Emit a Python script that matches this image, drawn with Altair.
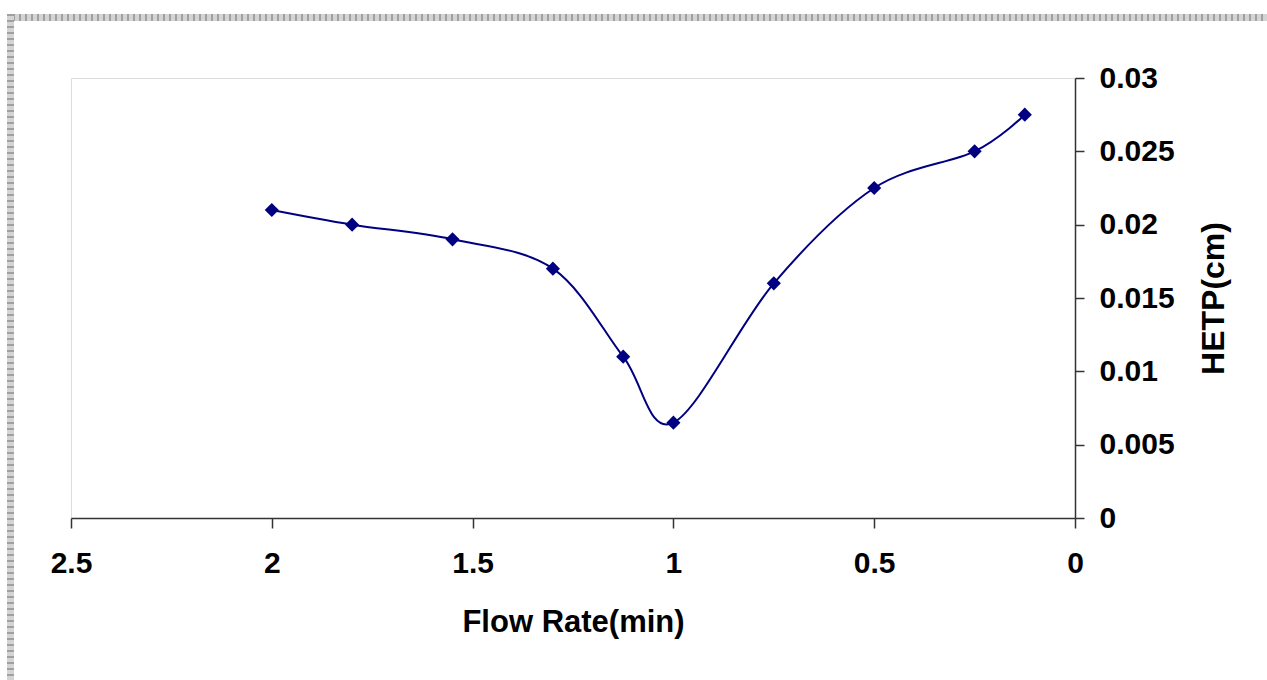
import altair as alt
import pandas as pd

# Flow rate (min) and plate height HETP (cm)
flow_rate = [2.0, 1.8, 1.55, 1.3, 1.125, 1.0, 0.75, 0.5, 0.25, 0.125]
hetp = [0.021, 0.020, 0.019, 0.017, 0.011, 0.0065, 0.016, 0.0225, 0.025, 0.0275]

x_ticks = [0, 0.5, 1, 1.5, 2, 2.5]
y_ticks = [0, 0.005, 0.01, 0.015, 0.02, 0.025, 0.03]

df = pd.DataFrame({"flow": flow_rate, "hetp": hetp})

FONT = "Liberation Sans"
NAVY = "#000080"
LABEL_SIZE = 30
TITLE_SIZE = 31

x_enc = alt.X(
    "flow:Q",
    scale=alt.Scale(domain=[2.5, 0], nice=False, zero=False),
    axis=alt.Axis(
        values=x_ticks,
        format="~g",
        title="Flow Rate(min)",
        grid=False,
        domainColor="#333333",
        domainWidth=1.5,
        tickColor="#333333",
        tickWidth=1.5,
        tickSize=10,
        labelFont=FONT,
        labelFontSize=LABEL_SIZE,
        labelFontWeight="bold",
        labelColor="#000000",
        labelPadding=20,
        labelFlush=False,
        labelOverlap=False,
        titleFont=FONT,
        titleFontSize=TITLE_SIZE,
        titleFontWeight="bold",
        titleColor="#000000",
        titleX=502,
        titleY=104,
        titleAlign="center",
        titleBaseline="middle",
    ),
)

y_enc = alt.Y(
    "hetp:Q",
    scale=alt.Scale(domain=[0, 0.03], nice=False),
    axis=alt.Axis(
        orient="right",
        values=y_ticks,
        format="~g",
        title="HETP(cm)",
        grid=False,
        domainColor="#333333",
        domainWidth=1.5,
        tickColor="#333333",
        tickWidth=1.5,
        tickSize=9,
        labelFont=FONT,
        labelFontSize=LABEL_SIZE,
        labelFontWeight="bold",
        labelColor="#000000",
        labelPadding=15,
        labelFlush=False,
        labelOverlap=False,
        labelBaseline="middle",
        titleFont=FONT,
        titleFontSize=32,
        titleFontWeight="bold",
        titleColor="#000000",
        titleAngle=270,
        titleX=138,
        titleY=220,
        titleAlign="center",
        titleBaseline="middle",
    ),
)

curve = (
    alt.Chart(df)
    .mark_line(color=NAVY, strokeWidth=2, interpolate="cardinal")
    .encode(x=x_enc, y=y_enc)
)

points = (
    alt.Chart(df)
    .mark_point(shape="diamond", filled=True, color=NAVY, size=200, opacity=1)
    .encode(x="flow:Q", y="hetp:Q")
)

# hatched frame along the top and left edges of the page:
# a light band with a darker dashed texture on top
def band(color, dash, **enc):
    props = dict(color=color, strokeWidth=7)
    if dash:
        props["strokeDash"] = dash
    return alt.Chart(df).mark_rule(**props).encode(**enc)

top_enc = dict(x=alt.value(-64), x2=alt.value(1196), y=alt.value(-60.5))
left_enc = dict(x=alt.value(-60.5), y=alt.value(-64), y2=alt.value(602))

frame = alt.layer(
    band("#d4d4d4", None, **top_enc),
    band("#a0a0a0", [2, 4], **top_enc),
    band("#d4d4d4", None, **left_enc),
    band("#a0a0a0", [2, 4], **left_enc),
)

chart = (
    alt.layer(frame, curve, points)
    .properties(
        width=1004,
        height=440,
        autosize=alt.AutoSizeParams(type="none"),
        padding={"left": 71, "top": 78, "right": 192, "bottom": 162},
    )
    .configure_view(stroke="#8c8c8c", strokeWidth=2)
    .configure(background="#ffffff")
)

chart.save("out.html", embed_options={"renderer": "svg", "actions": False})
